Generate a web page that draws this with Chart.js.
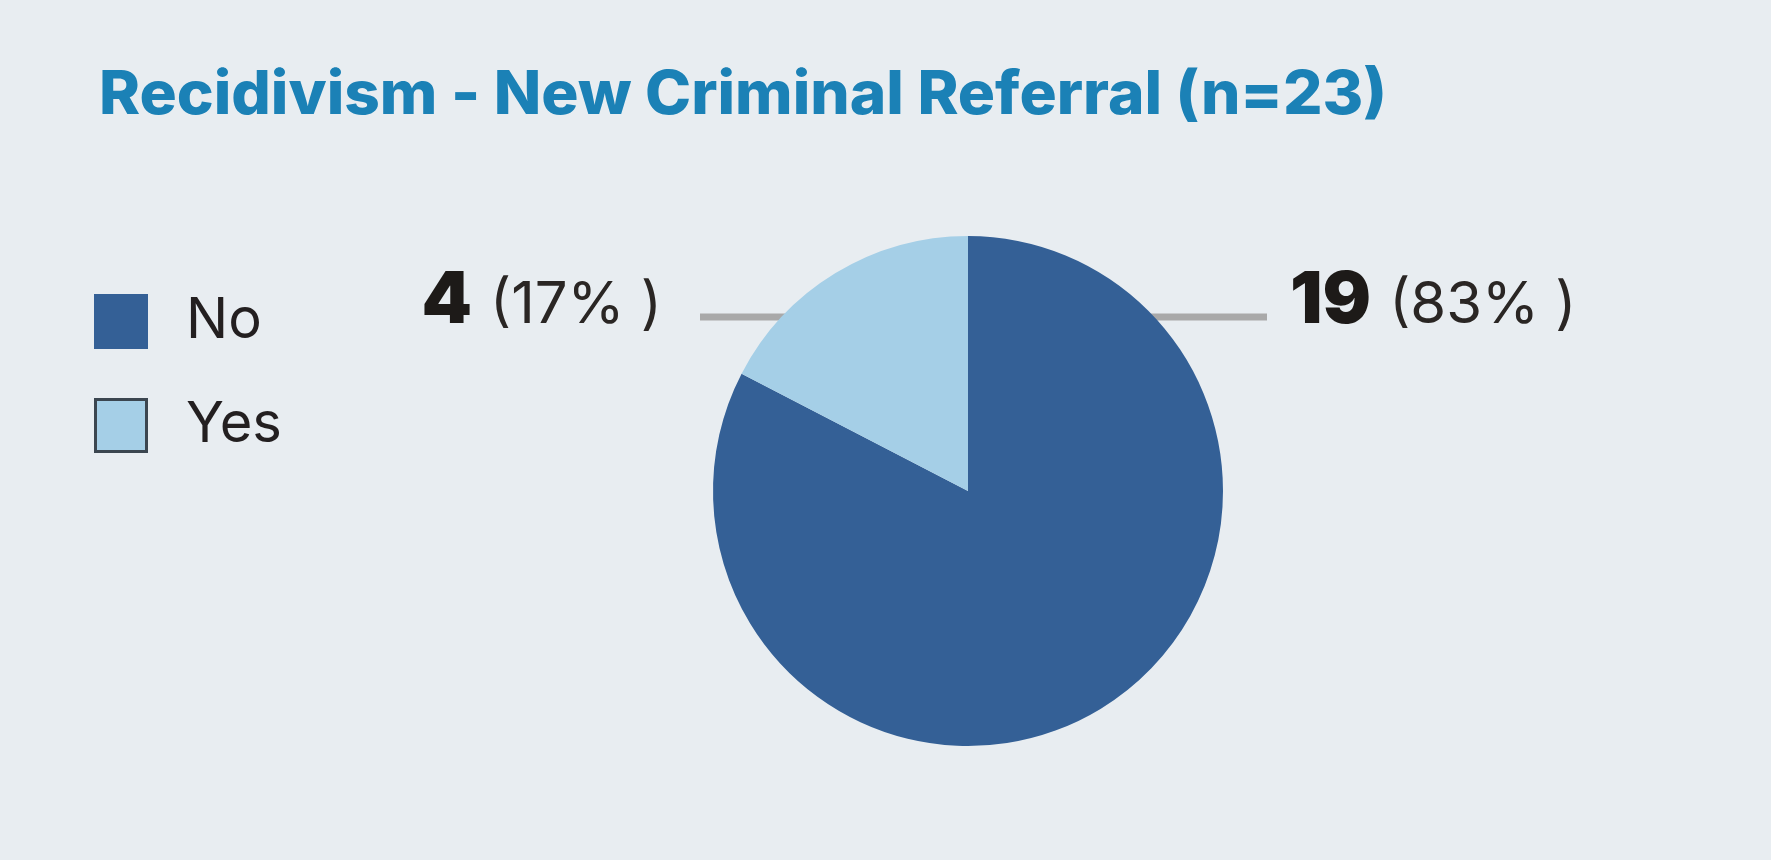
<!DOCTYPE html>
<html>
<head>
<meta charset="utf-8">
<script src="https://cdn.jsdelivr.net/npm/chart.js@4.4.1/dist/chart.umd.min.js"></script>
<style>
  html, body { margin: 0; padding: 0; background: #e8edf1; }
  #wrap { width: 1771px; height: 860px; }
</style>
</head>
<body>
<div id="wrap"><canvas id="pie-chart" width="1771" height="860"></canvas></div>
<script>
const categories = ["No", "Yes"];
const counts = [19, 4];
const sliceColors = ["#346096", "#a5cfe7"];
const chartTitle = "Recidivism - New Criminal Referral (n=23)";

// draw text squeezed/stretched to a given width
function fitText(ctx, text, x, y, width) {
  const w = ctx.measureText(text).width;
  ctx.save();
  ctx.translate(x, y);
  ctx.scale(width / w, 1);
  ctx.fillText(text, 0, 0);
  ctx.restore();
}

const leaderLines = {
  id: "leaderLines",
  beforeDatasetsDraw(chart) {
    const arc = chart.getDatasetMeta(0).data[0];
    const cx = arc.x, cy = arc.y;
    const ctx = chart.ctx;
    ctx.save();
    ctx.strokeStyle = "#a9a9a9";
    ctx.lineWidth = 7;
    ctx.beginPath();
    ctx.moveTo(cx - 268, cy - 174);
    ctx.lineTo(cx + 299, cy - 174);
    ctx.stroke();
    ctx.restore();
  },
};

const annotations = {
  id: "annotations",
  afterDraw(chart) {
    const ctx = chart.ctx;
    const meta = chart.getDatasetMeta(0);
    const total = counts.reduce((a, b) => a + b, 0);

    // title
    ctx.save();
    ctx.fillStyle = "#1b81b6";
    ctx.font = "800 60px Inter";
    ctx.textBaseline = "alphabetic";
    fitText(ctx, chartTitle, 99, 114, 1288);

    // legend
    categories.forEach((label, i) => {
      const top = 294 + i * 104;
      ctx.fillStyle = sliceColors[i];
      ctx.fillRect(94, top, 54, 55);
      if (i === 1) {
        ctx.strokeStyle = "#3b4650";
        ctx.lineWidth = 3;
        ctx.strokeRect(95.5, top + 1.5, 51, 52);
      }
      ctx.fillStyle = "#231f20";
      ctx.font = "400 56px Inter";
      ctx.fillText(label, 186, top + 44);
    });

    // value labels
    meta.data.forEach((arc, i) => {
      const mid = (arc.startAngle + arc.endAngle) / 2;
      const left = Math.cos(mid) < 0;
      const num = String(counts[i]);
      const pct = "(" + Math.round(counts[i] / total * 100) + "% )";
      const y = arc.y - 168;
      ctx.font = "900 72px Inter";
      const nw = ctx.measureText(num).width;
      ctx.font = "400 58px Inter";
      const pw = ctx.measureText(pct).width;
      const gap = 18;
      const x = left ? arc.x - 306 - (nw + gap + pw) : arc.x + 322;
      ctx.fillStyle = "#1d1a18";
      ctx.font = "900 72px Inter";
      ctx.fillText(num, x, y);
      ctx.fillStyle = "#2a2624";
      ctx.font = "400 58px Inter";
      ctx.fillText(pct, x + nw + gap, y);
    });
    ctx.restore();
  },
};

new Chart(document.getElementById("pie-chart"), {
  type: "pie",
  data: {
    labels: categories,
    datasets: [
      {
        data: counts,
        backgroundColor: sliceColors,
        borderWidth: 0,
      },
    ],
  },
  options: {
    responsive: false,
    animation: false,
    events: [],
    layout: {
      padding: { left: 713, right: 548, top: 236, bottom: 114 },
    },
    plugins: {
      legend: { display: false },
      tooltip: { enabled: false },
    },
  },
  plugins: [leaderLines, annotations],
});
</script>
</body>
</html>
